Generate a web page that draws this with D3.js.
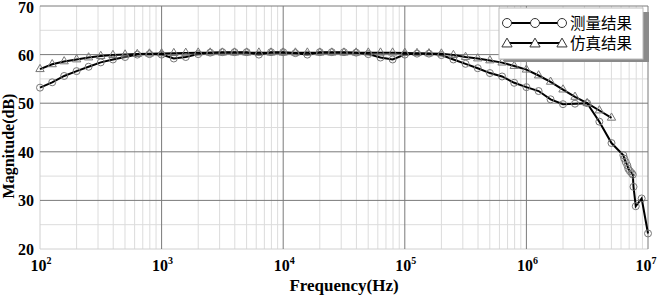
<!DOCTYPE html>
<html>
<head>
<meta charset="utf-8">
<script src="https://cdn.jsdelivr.net/npm/d3@7"></script>
<style>
  html, body { margin: 0; padding: 0; background: #fff; }
  svg { display: block; }
</style>
</head>
<body>
<div id="chart"></div>
<script>
// measured (circles)
var measFreq = [100, 126, 158, 200, 251, 316, 398, 501, 631, 794,
  1000, 1260, 1580, 2000, 2510, 3160, 3980, 5010, 6310, 7940,
  10000, 12600, 15800, 20000, 25100, 31600, 39800, 50100, 63100, 79400,
  100000, 126000, 158000, 200000, 251000, 316000, 398000, 501000, 631000, 794000,
  1000000, 1260000, 1580000, 2000000, 2510000, 3160000, 3980000, 5010000,
  6270000, 6380000, 6560000, 6760000, 6890000, 7110000, 7350000, 7500000,
  7600000, 7930000, 8870000, 10000000];
var measDb = [53.2, 54.3, 55.6, 56.6, 57.5, 58.4, 59.0, 59.5, 60.0, 60.1,
  60.0, 59.2, 59.5, 60.1, 60.4, 60.5, 60.5, 60.5, 60.0, 60.5,
  60.5, 60.3, 60.0, 60.5, 60.5, 60.5, 60.4, 60.1, 59.4, 59.0,
  60.0, 60.2, 60.2, 59.9, 59.0, 58.1, 57.2, 56.2, 55.5, 54.2,
  53.3, 52.5, 50.8, 49.8, 49.9, 50.0, 46.2, 41.8,
  39.3, 38.6, 37.9, 37.2, 36.5, 36.0, 35.6, 35.3,
  32.8, 28.8, 30.4, 23.2];

// simulated (triangles)
var simFreq = [100, 126, 158, 200, 251, 316, 398, 501, 631, 794,
  1000, 1260, 1580, 2000, 2510, 3160, 3980, 5010, 6310, 7940,
  10000, 12600, 15800, 20000, 25100, 31600, 39800, 50100, 63100, 79400,
  100000, 126000, 158000, 200000, 251000, 316000, 398000, 501000, 631000, 794000,
  1000000, 1260000, 1580000, 2000000, 2510000, 3160000, 3980000, 5010000];
var simDb = [57.0, 58.0, 58.6, 59.0, 59.4, 59.7, 59.9, 60.0, 60.1, 60.2,
  60.25, 60.3, 60.35, 60.4, 60.4, 60.4, 60.4, 60.4, 60.4, 60.4,
  60.4, 60.4, 60.4, 60.4, 60.4, 60.4, 60.4, 60.4, 60.4, 60.4,
  60.35, 60.3, 60.25, 60.2, 59.9, 59.5, 59.2, 58.8, 58.35, 57.65,
  56.9, 55.7, 54.4, 52.8, 51.3, 50.0, 48.5, 47.0];

var xTickExp = [2, 3, 4, 5, 6, 7];
var yTicks = [20, 30, 40, 50, 60, 70];
var legendNames = ['测量结果', '仿真结果'];

var W = 659, H = 295;
var svg = d3.select('#chart').append('svg').attr('width', W).attr('height', H);

var x = d3.scaleLog().domain([1e2, 1e7]).range([40, 648]);
var y = d3.scaleLinear().domain([20, 70]).range([249, 6]);

var font = "'Liberation Serif', 'Times New Roman', serif";

// grid
var g = svg.append('g');
var xMinor = x.ticks().filter(function (d) { return Math.abs(Math.log10(d) % 1) > 1e-6; });
var yMinor = d3.range(25, 70, 10);

g.selectAll('.xminor').data(xMinor).enter().append('line')
  .attr('x1', d => x(d)).attr('x2', d => x(d)).attr('y1', y(20)).attr('y2', y(70))
  .attr('stroke', '#dcdcdc').attr('stroke-width', 1);
g.selectAll('.yminor').data(yMinor).enter().append('line')
  .attr('x1', x(1e2)).attr('x2', x(1e7)).attr('y1', d => y(d)).attr('y2', d => y(d))
  .attr('stroke', '#dcdcdc').attr('stroke-width', 1);

// border bottom/left light
g.append('line').attr('x1', x(1e2)).attr('x2', x(1e7)).attr('y1', y(20)).attr('y2', y(20))
  .attr('stroke', '#d0d0d0');
g.append('line').attr('x1', x(1e2)).attr('x2', x(1e2)).attr('y1', y(20)).attr('y2', y(70))
  .attr('stroke', '#d0d0d0');

g.selectAll('.xmajor').data(xTickExp.slice(1)).enter().append('line')
  .attr('x1', d => x(Math.pow(10, d))).attr('x2', d => x(Math.pow(10, d)))
  .attr('y1', y(20)).attr('y2', y(70))
  .attr('stroke', '#7a7a7a').attr('stroke-width', 1);
g.selectAll('.ymajor').data(yTicks.slice(1)).enter().append('line')
  .attr('x1', x(1e2)).attr('x2', x(1e7)).attr('y1', d => y(d)).attr('y2', d => y(d))
  .attr('stroke', '#7a7a7a').attr('stroke-width', 1);

// y tick labels
svg.selectAll('.ylab').data(yTicks).enter().append('text')
  .attr('x', 34).attr('y', d => Math.max(y(d) + 6, 13))
  .attr('text-anchor', 'end')
  .attr('font-family', font).attr('font-weight', 'bold').attr('font-size', 16)
  .text(d => d);

// x tick labels with superscript
var xl = svg.selectAll('.xlab').data(xTickExp).enter().append('text')
  .attr('x', d => x(Math.pow(10, d)) + (d === 7 ? -2 : 1)).attr('y', 271)
  .attr('text-anchor', 'middle')
  .attr('font-family', font).attr('font-weight', 'bold').attr('font-size', 16);
xl.append('tspan').text('10');
xl.append('tspan').attr('dy', -7).attr('font-size', 10).text(d => d);

svg.append('text')
  .attr('x', 344).attr('y', 291)
  .attr('text-anchor', 'middle')
  .attr('font-family', font).attr('font-weight', 'bold').attr('font-size', 17)
  .text('Frequency(Hz)');

svg.append('text')
  .attr('transform', 'translate(14,146) rotate(-90)')
  .attr('text-anchor', 'middle')
  .attr('font-family', font).attr('font-weight', 'bold').attr('font-size', 16)
  .text('Magnitude(dB)');

// series
var line = d3.line().x(d => x(d[0])).y(d => y(d[1]));
var meas = measFreq.map((f, i) => [f, measDb[i]]);
var sim = simFreq.map((f, i) => [f, simDb[i]]);

var tri = d3.symbol().type(d3.symbolTriangle).size(30);

svg.append('path').datum(sim).attr('d', line)
  .attr('fill', 'none').attr('stroke', '#000').attr('stroke-width', 2);
svg.append('path').datum(meas).attr('d', line)
  .attr('fill', 'none').attr('stroke', '#000').attr('stroke-width', 2);

svg.selectAll('.tri').data(sim).enter().append('path')
  .attr('d', tri)
  .attr('transform', d => 'translate(' + x(d[0]) + ',' + y(d[1]) + ')')
  .attr('fill', 'none').attr('stroke', '#777').attr('stroke-width', 1);
svg.selectAll('.circ').data(meas).enter().append('circle')
  .attr('cx', d => x(d[0])).attr('cy', d => y(d[1])).attr('r', 3.5)
  .attr('fill', 'none').attr('stroke', '#777').attr('stroke-width', 1);

// legend
var lg = svg.append('g');
lg.append('rect').attr('x', 504).attr('y', 12).attr('width', 145).attr('height', 50).attr('fill', '#8a8a8a');
lg.append('rect').attr('x', 499).attr('y', 8).attr('width', 144).attr('height', 51)
  .attr('fill', '#fff').attr('stroke', '#bbb').attr('stroke-width', 1);

var rows = lg.selectAll('.row').data(legendNames).enter().append('g')
  .attr('transform', (d, i) => 'translate(0,' + (23 + i * 20) + ')');
rows.append('line').attr('x1', 507).attr('x2', 562).attr('y1', 0).attr('y2', 0)
  .attr('stroke', '#000').attr('stroke-width', 2);
rows.each(function (d, i) {
  var r = d3.select(this);
  [507, 535, 562].forEach(function (mx) {
    if (i === 0) {
      r.append('circle').attr('cx', mx).attr('cy', 0).attr('r', 4.5)
        .attr('fill', '#fff').attr('stroke', '#333').attr('stroke-width', 1);
    } else {
      r.append('path').attr('d', d3.symbol().type(d3.symbolTriangle).size(45))
        .attr('transform', 'translate(' + mx + ',1)')
        .attr('fill', '#fff').attr('stroke', '#333').attr('stroke-width', 1);
    }
  });
});
rows.append('text').attr('x', 570).attr('y', 6)
  .attr('font-family', "'Noto Sans CJK SC', sans-serif").attr('font-size', 15.5)
  .text(d => d);
</script>
</body>
</html>
